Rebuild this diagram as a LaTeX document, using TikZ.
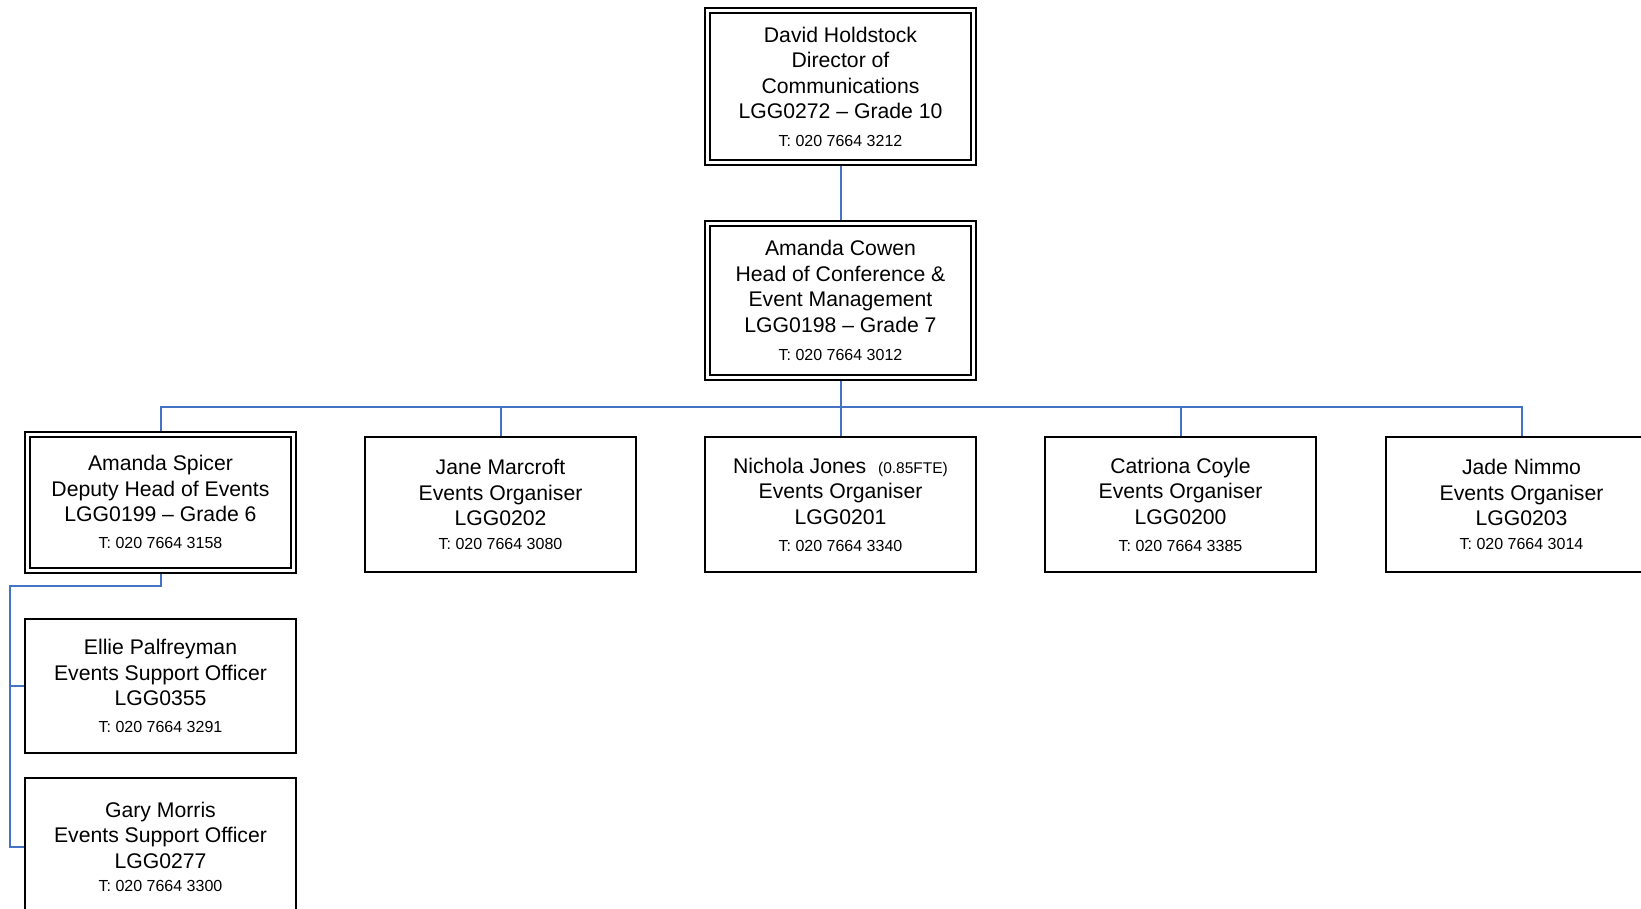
\documentclass[tikz,border=0pt]{standalone}
\usepackage{fontspec}
\setmainfont{Liberation Sans}
\usetikzlibrary{backgrounds}
\definecolor{linkblue}{RGB}{68,114,196}
\newcommand\phn{\fontsize{16}{25.5}\selectfont}
\begin{document}
\begin{tikzpicture}[x=1pt,y=-1pt,
  box/.style={draw=black,line width=2pt,minimum width=271pt,minimum height=135pt,inner sep=0pt,outer sep=0pt,align=center,font=\fontsize{21.2}{25.5}\selectfont},
  dbox/.style={box,double=white,double distance=3pt,minimum width=266pt},
  link/.style={draw=linkblue,line width=2pt}]
\useasboundingbox (0,0) rectangle (1641,909);
\clip (0,0) rectangle (1641,909);
\node[dbox,minimum height=152pt] (dh) at (840.5,87) {David Holdstock\\Director of\\Communications\\LGG0272 – Grade 10\\[2.5pt]\phn T: 020 7664 3212};
\node[dbox,minimum height=153pt] (ac) at (840.5,300.5) {Amanda Cowen\\Head of Conference \&\\Event Management\\LGG0198 – Grade 7\\[2.5pt]\phn T: 020 7664 3012};
\node[dbox,minimum height=136pt] (as) at (160.5,502) {Amanda Spicer\\Deputy Head of Events\\LGG0199 – Grade 6\\[1.5pt]\phn T: 020 7664 3158};
\node[box] (jm) at (500.5,504.5) {Jane Marcroft\\Events Organiser\\LGG0202\\[-1.5pt]\phn T: 020 7664 3080};
\node[box] (nj) at (840.5,504.5) {Nichola Jones \ {\fontsize{15.5}{25.5}\selectfont(0.85FTE)}\\Events Organiser\\LGG0201\\[1.5pt]\phn T: 020 7664 3340};
\node[box] (cc) at (1180.5,504.5) {Catriona Coyle\\Events Organiser\\LGG0200\\[1.5pt]\phn T: 020 7664 3385};
\node[box] (jn) at (1521.5,504.5) {Jade Nimmo\\Events Organiser\\LGG0203\\[-1.5pt]\phn T: 020 7664 3014};
\node[box,minimum height=134pt] (ep) at (160.5,686) {Ellie Palfreyman\\Events Support Officer\\LGG0355\\[1.5pt]\phn T: 020 7664 3291};
\node[box,minimum height=138pt] (gm) at (160.5,847) {Gary Morris\\Events Support Officer\\LGG0277\\[-2pt]\phn T: 020 7664 3300};
\coordinate (bus) at (840.5,407);
\coordinate (lft) at (10,586);
\begin{scope}[on background layer]
\draw[link] (dh.south) -- (ac.north);
\draw[link] (ac.south) -- (bus);
\foreach \n in {as,jm,nj,cc,jn} \draw[link] (bus) -| (\n.north);
\draw[link] (as.south) |- (lft) |- (ep.west);
\draw[link] (lft) |- (gm.west);
\end{scope}
\end{tikzpicture}
\end{document}
